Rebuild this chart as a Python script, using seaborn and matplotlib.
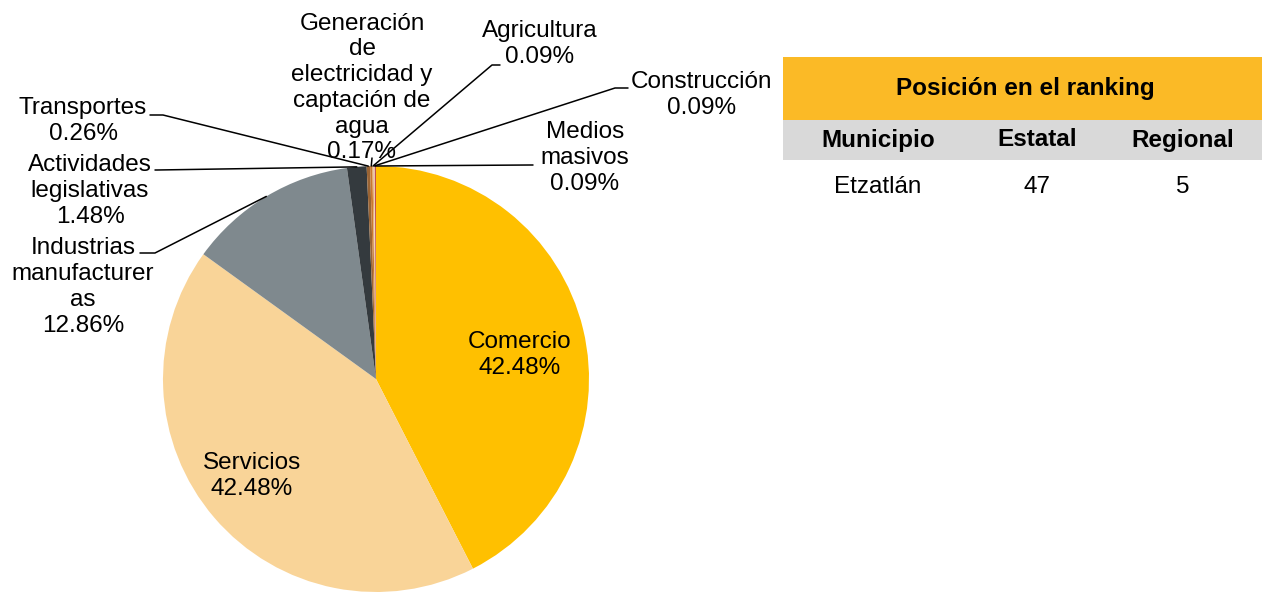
import matplotlib
matplotlib.use("Agg")
import matplotlib.pyplot as plt
import seaborn as sns
import numpy as np
from matplotlib.patches import Rectangle
from matplotlib.lines import Line2D

sns.set_theme(style="white")
plt.rcParams['font.family'] = ['Liberation Sans', 'DejaVu Sans']
plt.rcParams['text.color'] = 'black'

# data
sectores = ['Comercio', 'Servicios', 'Industrias\nmanufacturer\nas', 'Actividades\nlegislativas',
            'Transportes', 'Generación\nde\nelectricidad y\ncaptación de\nagua', 'Agricultura',
            'Construcción', 'Medios\nmasivos']
porcentajes = [42.48, 42.48, 12.86, 1.48, 0.26, 0.17, 0.09, 0.09, 0.09]
colores = ['#FFC000', '#F9D498', '#7F898E', '#343A3E', '#9A6434', '#C8782F', '#E3A765', '#F2CDB8', '#C0504D']

rank_cols = ['Municipio', 'Estatal', 'Regional']
rank_vals = ['Etzatlán', '47', '5']

W, H = 1262, 592
fig = plt.figure(figsize=(W / 100, H / 100), dpi=100)

def fx(px):
    return px / W

def fy(py):
    return 1 - py / H

cx, cy, r = 376, 379, 213
ax = fig.add_axes([fx(cx - r), fy(cy + r), 2 * r / W, 2 * r / H])
wedges, _ = ax.pie(porcentajes, colors=colores, startangle=90, counterclock=False,
                   radius=1, wedgeprops=dict(linewidth=0))
ax.set_xlim(-1, 1)
ax.set_ylim(-1, 1)
ax.set_aspect('equal')
ax.axis('off')

# label placement (pixel centres), leader anchor and knee
lab_pos = {
    0: (520, 355), 1: (252, 476), 2: (83, 287), 3: (90, 191), 4: (83, 121),
    5: (362, 88), 6: (540, 44), 7: (702, 95), 8: (585, 158),
}
leaders = {
    2: [(140, 253), (155, 253)],
    3: [(155, 170), (157, 170)],
    4: [(150, 115), (163, 115)],
    5: [(372, 158), (372, 158)],
    6: [(500, 65), (492, 65)],
    7: [(628, 88), (615, 88)],
    8: [(533, 165), (530, 165)],
}

fs = 17.5
for i, w in enumerate(wedges):
    txt = f"{sectores[i]}\n{porcentajes[i]:.2f}%"
    px, py = lab_pos[i]
    fig.text(fx(px), fy(py), txt, ha='center', va='center', fontsize=fs,
             linespacing=1.22, color='black')
    if i in leaders:
        ang = np.deg2rad((w.theta1 + w.theta2) / 2)
        pt = ax.transData.transform((np.cos(ang), np.sin(ang)))
        fpt = fig.transFigure.inverted().transform(pt)
        (ax0, ay0), (kx, ky) = leaders[i]
        xs = [fx(ax0), fx(kx), fpt[0]]
        ys = [fy(ay0), fy(ky), fpt[1]]
        fig.add_artist(Line2D(xs, ys, color='black', lw=1.1, transform=fig.transFigure))

# ranking table
fig.add_artist(Rectangle((fx(783), fy(120)), fx(1262) - fx(783), fy(57) - fy(120),
                         transform=fig.transFigure, facecolor='#FBBA26', edgecolor='none'))
fig.add_artist(Rectangle((fx(783), fy(160)), fx(1262) - fx(783), fy(120) - fy(160),
                         transform=fig.transFigure, facecolor='#D9D9D9', edgecolor='none'))
fig.text(fx(1025), fy(89), 'Posición en el ranking', ha='center', va='center',
         fontsize=fs, fontweight='bold', color='black')
col_x = [878, 1037, 1183]
for x, c, v in zip(col_x, rank_cols, rank_vals):
    fig.text(fx(x), fy(140), c, ha='center', va='center', fontsize=fs,
             fontweight='bold', color='black')
    fig.text(fx(x), fy(187), v, ha='center', va='center', fontsize=fs, color='black')

fig.savefig('out.png', dpi=100)
